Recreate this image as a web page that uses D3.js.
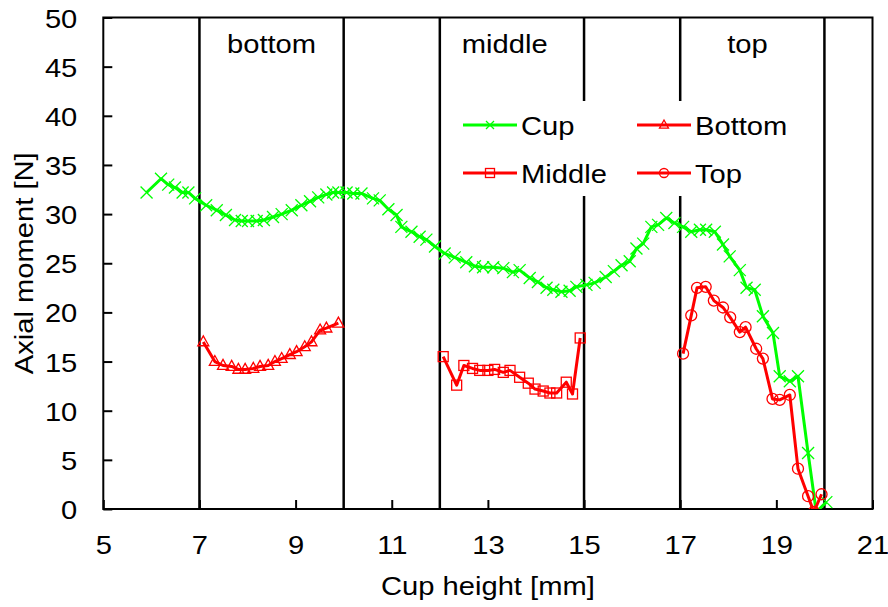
<!DOCTYPE html>
<html><head><meta charset="utf-8">
<script src="https://cdn.jsdelivr.net/npm/d3@7"></script>
<style>
html,body{margin:0;padding:0;background:#fff;}
svg{display:block;font-family:"Liberation Sans",Arial,sans-serif;}
</style></head>
<body><svg id="c" width="888" height="607"></svg>
<script>
// ---- data ----
const cupX = [5.90,6.20,6.35,6.49,6.65,6.77,6.91,7.14,7.36,7.55,7.74,7.88,8.01,8.19,8.34,8.53,8.71,8.92,9.12,9.30,9.47,9.64,9.78,9.89,10.06,10.20,10.37,10.61,10.75,10.93,11.10,11.20,11.41,11.58,11.72,11.90,12.10,12.31,12.55,12.73,12.90,13.11,13.32,13.52,13.66,13.87,14.04,14.22,14.36,14.53,14.70,14.84,15.05,15.22,15.45,15.62,15.78,15.95,16.09,16.23,16.40,16.54,16.71,16.88,17.06,17.23,17.41,17.54,17.72,17.89,18.03,18.24,18.38,18.55,18.72,18.93,19.07,19.28,19.45,19.66,19.83,20.04];
const cupY = [32.2,33.6,33.0,32.7,32.2,32.2,31.6,30.9,30.4,29.9,29.4,29.3,29.3,29.3,29.4,29.7,30.0,30.4,30.9,31.3,31.7,32.0,32.2,32.2,32.2,32.1,32.1,31.6,31.4,30.5,29.9,28.7,28.2,27.7,27.4,26.7,26.0,25.6,25.1,24.7,24.6,24.6,24.5,24.1,24.3,23.5,23.1,22.5,22.3,22.1,22.2,22.6,22.8,23.0,23.6,24.2,24.8,25.2,26.5,27.0,28.7,28.9,29.6,29.1,28.7,28.2,28.4,28.4,28.2,26.9,25.7,24.3,22.5,22.3,19.6,17.9,13.5,13.0,13.5,5.7,-0.3,0.7];
const bottomX = [7.08,7.32,7.49,7.67,7.81,7.95,8.12,8.26,8.43,8.57,8.71,8.88,9.02,9.19,9.33,9.51,9.64,9.89];
const bottomY = [17.0,15.0,14.6,14.5,14.2,14.2,14.3,14.5,14.6,15.0,15.3,15.7,16.0,16.5,17.0,18.2,18.4,18.9];
const middleX = [12.07,12.35,12.50,12.68,12.83,13.00,13.14,13.32,13.46,13.66,13.84,13.98,14.15,14.29,14.43,14.63,14.76,14.92];
const middleY = [15.5,12.6,14.6,14.3,14.1,14.1,14.2,13.9,14.1,13.4,12.8,12.2,12.0,11.8,11.8,12.9,11.7,17.4];
const topX = [17.06,17.23,17.35,17.53,17.70,17.89,18.04,18.24,18.36,18.58,18.72,18.92,19.07,19.28,19.45,19.66,19.78,19.94];
const topY = [15.8,19.7,22.5,22.6,21.2,20.5,19.5,18.0,18.5,16.3,15.3,11.2,11.1,11.6,4.1,1.3,-0.3,1.5];
const xTicks = [5,7,9,11,13,15,17,19,21];
const yTicks = [0,5,10,15,20,25,30,35,40,45,50];
const sectionLines = [7,10,12,15,17,20];
const sectionLabels = ["bottom","middle","top"];
const sectionLabelX = [8.5,13.35,18.4];
const seriesNames = ["Cup","Bottom","Middle","Top"];
const xTitle = "Cup height [mm]";
const yTitle = "Axial moment [N]";

// ---- drawing ----
const svg = d3.select("#c");
const x = d3.scaleLinear().domain([5,21]).range([103.3,872.5]);
const y = d3.scaleLinear().domain([0,50]).range([509,17.5]);
const FS = 26.5, SX = 1.1;
const GREEN = "#00ff00", RED = "#ff0000";

function txt(parent, tx, ty, str, anchor, rot){
  return parent.append("text")
    .attr("transform",`translate(${tx},${ty})${rot?` rotate(${rot})`:""} scale(${SX},1)`)
    .attr("text-anchor",anchor).attr("font-size",FS).attr("fill","#000").text(str);
}

svg.append("defs").append("clipPath").attr("id","clip")
  .append("rect").attr("x",x(5)).attr("y",y(50)).attr("width",x(21)-x(5)).attr("height",y(0)-y(50));

// section separators
svg.append("g").selectAll("line").data(sectionLines).join("line")
  .attr("x1",d=>x(d)).attr("x2",d=>x(d)).attr("y1",y(50)).attr("y2",y(0))
  .attr("stroke","#000").attr("stroke-width",2.5);

// section labels
const sl = svg.append("g");
sectionLabels.forEach((d,i)=>txt(sl, x(sectionLabelX[i]), 53, d, "middle"));

// frame
svg.append("rect").attr("x",x(5)).attr("y",y(50)).attr("width",x(21)-x(5)).attr("height",y(0)-y(50))
  .attr("fill","none").attr("stroke","#000").attr("stroke-width",2);

// axes
const xAxis = d3.axisBottom(x).tickValues(xTicks).tickSize(-9).tickPadding(0).tickFormat(d3.format("d"));
const gx = svg.append("g").attr("transform",`translate(0,${y(0)})`).call(xAxis);
gx.select(".domain").remove();
gx.selectAll(".tick line").attr("stroke","#000").attr("stroke-width",2);
gx.selectAll(".tick text").attr("font-size",FS).attr("font-family","Liberation Sans, Arial, sans-serif")
  .attr("fill","#000").attr("y",45).attr("dy",null).attr("transform",`scale(${SX},1)`);

const yAxis = d3.axisLeft(y).tickValues(yTicks).tickSize(-9).tickPadding(0).tickFormat(d3.format("d"));
const gy = svg.append("g").attr("transform",`translate(${x(5)},0)`).call(yAxis);
gy.select(".domain").remove();
gy.selectAll(".tick line").attr("stroke","#000").attr("stroke-width",2);
gy.selectAll(".tick text").attr("font-size",FS).attr("font-family","Liberation Sans, Arial, sans-serif")
  .attr("fill","#000").attr("x",-26/SX).attr("dy","0.36em").attr("transform",`scale(${SX},1)`);

// titles
txt(svg, (x(5)+x(21))/2, 595, xTitle, "middle");
txt(svg, 33, (y(0)+y(50))/2, yTitle, "middle", -90);

// markers
function marker(g, type, cx, cy, s, color){
  if(type==="x"){
    g.append("path").attr("d",`M${cx-s},${cy-s}L${cx+s},${cy+s}M${cx-s},${cy+s}L${cx+s},${cy-s}`)
      .attr("stroke",color).attr("stroke-width",1.3).attr("fill","none");
  } else if(type==="tri"){
    g.append("path").attr("d",`M${cx},${cy-s*1.1}L${cx+s},${cy+s*0.7}L${cx-s},${cy+s*0.7}Z`)
      .attr("stroke",color).attr("stroke-width",1.3).attr("fill","none");
  } else if(type==="sq"){
    g.append("rect").attr("x",cx-s).attr("y",cy-s).attr("width",2*s).attr("height",2*s)
      .attr("stroke",color).attr("stroke-width",1.3).attr("fill","none");
  } else if(type==="circ"){
    g.append("circle").attr("cx",cx).attr("cy",cy).attr("r",s)
      .attr("stroke",color).attr("stroke-width",1.3).attr("fill","none");
  }
}

const series = [
  {name:seriesNames[0], xs:cupX, ys:cupY, color:GREEN, m:"x", s:6},
  {name:seriesNames[1], xs:bottomX, ys:bottomY, color:RED, m:"tri", s:5.5},
  {name:seriesNames[2], xs:middleX, ys:middleY, color:RED, m:"sq", s:5},
  {name:seriesNames[3], xs:topX, ys:topY, color:RED, m:"circ", s:5.5}
];
const plot = svg.append("g").attr("clip-path","url(#clip)");
const line = d3.line().x(d=>x(d[0])).y(d=>y(d[1]));
series.forEach(sr=>{
  const pts = sr.xs.map((v,i)=>[v,sr.ys[i]]);
  plot.append("path").datum(pts).attr("d",line).attr("fill","none")
    .attr("stroke",sr.color).attr("stroke-width",3).attr("stroke-linejoin","round");
  const mg = plot.append("g");
  pts.forEach(p=>marker(mg, sr.m, x(p[0]), y(p[1]), sr.s, sr.color));
});

// legend
const lg = svg.append("g");
lg.append("rect").attr("x",443).attr("y",101).attr("width",357).attr("height",95).attr("fill","#fff");
const legPos = [[463,125],[637,125],[463,173],[637,173]];
series.forEach((sr,i)=>{
  const [lx,ly] = legPos[i];
  lg.append("line").attr("x1",lx).attr("x2",lx+54).attr("y1",ly).attr("y2",ly)
    .attr("stroke",sr.color).attr("stroke-width",3);
  const mg = lg.append("g");
  marker(mg, sr.m, lx+27, ly, sr.m==="x"?4:4.5, sr.color);
  txt(lg, lx+58, ly+9.5, sr.name, "start");
});
</script>
</body></html>
